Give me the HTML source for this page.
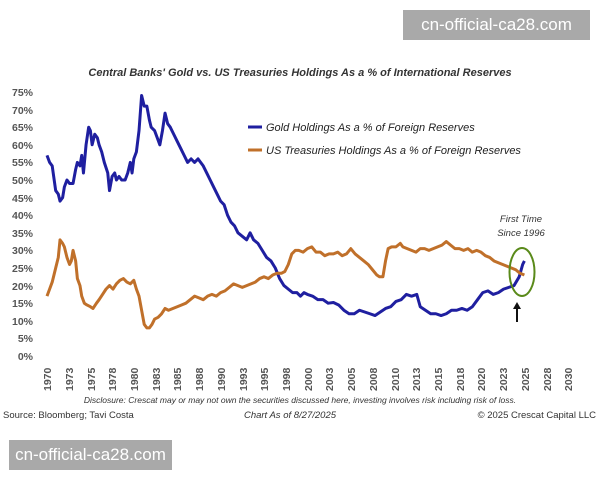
<!DOCTYPE html>
<html><head><meta charset="utf-8"><style>
body{margin:0;width:600px;height:480px;background:#fff;overflow:hidden;font-family:"Liberation Sans",sans-serif;position:relative}
.wm{position:absolute;background:#a9a9a9;color:#fff;font-size:17px;line-height:30px;text-align:center}
</style></head><body>
<svg width="600" height="480" style="position:absolute;left:0;top:0" font-family="Liberation Sans, sans-serif">
<text x="300" y="76" text-anchor="middle" font-size="11" font-weight="bold" font-style="italic" fill="#333">Central Banks' Gold vs. US Treasuries Holdings As a % of International Reserves</text>
<g font-size="10.5" fill="#555" font-weight="bold" text-anchor="end">
<text x="33" y="96">75%</text><text x="33" y="114">70%</text><text x="33" y="131">65%</text><text x="33" y="149">60%</text><text x="33" y="166">55%</text><text x="33" y="184">50%</text><text x="33" y="202">45%</text><text x="33" y="219">40%</text><text x="33" y="237">35%</text><text x="33" y="254">30%</text><text x="33" y="272">25%</text><text x="33" y="290">20%</text><text x="33" y="307">15%</text><text x="33" y="325">10%</text><text x="33" y="342">5%</text><text x="33" y="360">0%</text>
</g>
<g font-size="10.5" fill="#555" font-weight="bold" text-anchor="start">
<text transform="translate(51,391) rotate(-90)">1970</text><text transform="translate(73,391) rotate(-90)">1973</text><text transform="translate(95,391) rotate(-90)">1975</text><text transform="translate(116,391) rotate(-90)">1978</text><text transform="translate(138,391) rotate(-90)">1980</text><text transform="translate(160,391) rotate(-90)">1983</text><text transform="translate(181,391) rotate(-90)">1985</text><text transform="translate(203,391) rotate(-90)">1988</text><text transform="translate(225,391) rotate(-90)">1990</text><text transform="translate(247,391) rotate(-90)">1993</text><text transform="translate(268,391) rotate(-90)">1995</text><text transform="translate(290,391) rotate(-90)">1998</text><text transform="translate(312,391) rotate(-90)">2000</text><text transform="translate(333,391) rotate(-90)">2003</text><text transform="translate(355,391) rotate(-90)">2005</text><text transform="translate(377,391) rotate(-90)">2008</text><text transform="translate(399,391) rotate(-90)">2010</text><text transform="translate(420,391) rotate(-90)">2013</text><text transform="translate(442,391) rotate(-90)">2015</text><text transform="translate(464,391) rotate(-90)">2018</text><text transform="translate(485,391) rotate(-90)">2020</text><text transform="translate(507,391) rotate(-90)">2023</text><text transform="translate(529,391) rotate(-90)">2025</text><text transform="translate(551,391) rotate(-90)">2028</text><text transform="translate(572,391) rotate(-90)">2030</text>
</g>
<g transform="translate(47,356) scale(8.68,-3.52)" fill="none" stroke-linejoin="round">
<polyline vector-effect="non-scaling-stroke" stroke="#1f1fa0" stroke-width="3" points="0,57 0.3,55 0.6,54 1,47 1.3,46 1.5,44 1.8,45 2,48 2.3,50 2.6,49 3,49 3.3,53 3.5,55 3.8,54 4,57 4.2,52 4.5,60 4.8,65 5,64 5.2,60 5.5,63 5.8,62 6,60 6.3,58 6.6,55 7,52 7.2,47 7.5,51 7.8,52 8,50 8.3,51 8.6,50 9,50 9.3,52 9.6,55 9.8,52 10,56 10.3,58 10.6,64 10.9,74 11.2,71 11.5,71 11.8,67 12,65 12.4,64 12.7,62 13,60 13.3,64 13.6,69 13.9,66 14.2,65 14.6,63 15,61 15.4,59 15.8,57 16.2,55 16.6,56 17,55 17.4,56 17.7,55 18,54 18.4,52 18.8,50 19.2,48 19.6,46 20,44 20.4,43 20.8,40 21.2,38 21.6,37 22,35 22.5,34 23,33 23.4,35 23.8,33 24.3,32 24.8,30 25.3,28 25.8,27 26.3,25 26.8,22 27.3,20 27.8,19 28.3,18 28.8,18 29.2,17 29.6,18 30,17.5 30.6,17 31.2,16 31.8,16 32.4,15 33,15.2 33.6,14.5 34.2,13 34.8,12 35.4,12 36,13 36.6,12.5 37.2,12 37.8,11.5 38.4,12.5 39,13.5 39.6,14 40.2,15.5 40.8,16 41.4,17.5 42,17 42.6,17.5 43,14 43.6,13 44.2,12 44.8,12 45.4,11.5 46,12 46.6,13 47.2,13 47.8,13.5 48.4,13 49,14 49.6,16 50.2,18 50.8,18.5 51.4,17.5 52,18 52.6,19 53.2,19.5 53.8,20 54.4,22.5 54.8,26 55,27"/>
<polyline vector-effect="non-scaling-stroke" stroke="#c0702a" stroke-width="3" points="0,17 0.3,19 0.6,21 1,25 1.3,28 1.5,33 1.8,32 2,31 2.3,28 2.6,26 2.8,27 3,30 3.3,27 3.5,22 3.8,20 4,17 4.3,15 4.6,14.5 5,14 5.3,13.5 5.7,15 6,16 6.4,17.5 6.8,19 7.2,20 7.6,19 8,20.5 8.4,21.5 8.8,22 9.2,21 9.6,20.5 10,21.5 10.3,19 10.6,17 10.9,13 11.2,9 11.5,8 11.8,8 12.1,9 12.4,10.5 12.8,11 13.2,12 13.6,13.5 14,13 14.5,13.5 15,14 15.5,14.5 16,15 16.5,16 17,17 17.5,16.5 18,16 18.5,17 19,17.5 19.5,17 20,18 20.5,18.5 21,19.5 21.5,20.5 22,20 22.5,19.5 23,20 23.5,20.5 24,21 24.5,22 25,22.5 25.5,22 26,23 26.5,23.5 27,23.5 27.4,24 27.8,26 28.2,29 28.6,30 29,30 29.5,29.5 30,30.5 30.5,31 31,29.5 31.5,29.5 32,28.5 32.5,29 33,29 33.5,29.5 34,28.5 34.5,29 35,30.5 35.5,29 36,28 36.5,27 37,26 37.5,24.5 38,23 38.3,22.5 38.7,22.5 39,27 39.3,30.5 39.7,31 40.2,31 40.7,32 41,31 41.5,30.5 42,30 42.5,29.5 43,30.5 43.5,30.5 44,30 44.5,30.5 45,31 45.5,31.5 46,32.5 46.5,31.5 47,30.5 47.5,30.5 48,30 48.5,30.5 49,29.5 49.5,30 50,29.5 50.5,28.5 51,28 51.5,27 52,26.5 52.5,26 53,25.5 53.5,25 54,24.5 54.5,23.5 55,23"/>
</g>
<line x1="248" y1="127" x2="262" y2="127" stroke="#1f1fa0" stroke-width="3"/>
<text x="266" y="131" font-size="11" font-style="italic" fill="#222">Gold Holdings As a % of Foreign Reserves</text>
<line x1="248" y1="150" x2="262" y2="150" stroke="#c0702a" stroke-width="3"/>
<text x="266" y="154" font-size="11" font-style="italic" fill="#222">US Treasuries Holdings As a % of Foreign Reserves</text>
<text x="521" y="222" text-anchor="middle" font-size="9.5" font-style="italic" fill="#333">First Time</text>
<text x="521" y="236" text-anchor="middle" font-size="9.5" font-style="italic" fill="#333">Since 1996</text>
<ellipse cx="522" cy="272" rx="12.5" ry="24" fill="none" stroke="#5a8a1a" stroke-width="2"/>
<line x1="517" y1="322" x2="517" y2="308" stroke="#111" stroke-width="2"/>
<polygon points="513,309 517,302 521,309" fill="#111"/>
<text x="300" y="403" text-anchor="middle" font-size="8.5" font-style="italic" fill="#333">Disclosure: Crescat may or may not own the securities discussed here, investing involves risk including risk of loss.</text>
<text x="3" y="418" font-size="9.5" fill="#333">Source: Bloomberg; Tavi Costa</text>
<text x="290" y="418" text-anchor="middle" font-size="9.5" font-style="italic" fill="#333">Chart As of 8/27/2025</text>
<text x="596" y="418" text-anchor="end" font-size="9.5" fill="#333">© 2025 Crescat Capital LLC</text>
</svg>
<div class="wm" style="left:403px;top:10px;width:187px;height:30px">cn-official-ca28.com</div>
<div class="wm" style="left:9px;top:440px;width:163px;height:30px">cn-official-ca28.com</div>
</body></html>
